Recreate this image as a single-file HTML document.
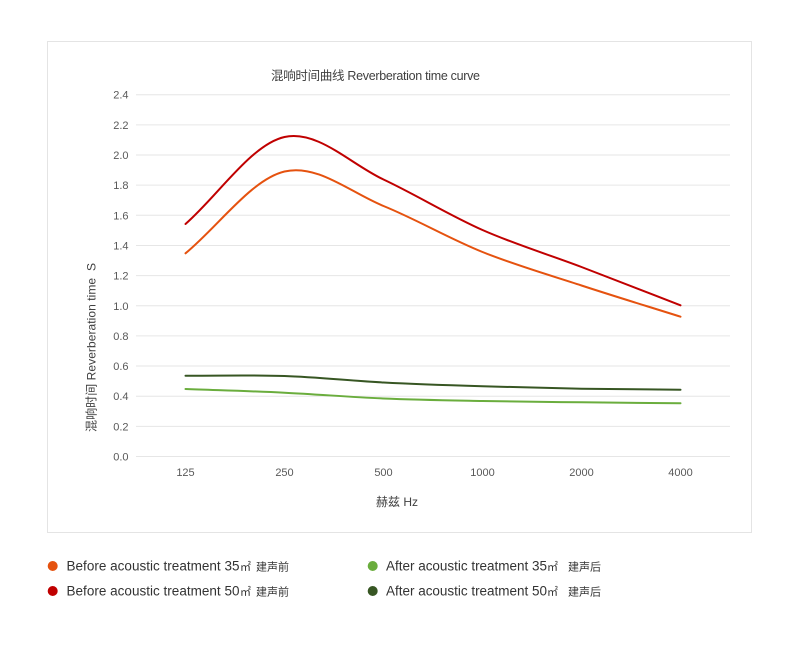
<!DOCTYPE html>
<html>
<head>
<meta charset="utf-8">
<style>
  html, body { margin: 0; padding: 0; background: #ffffff; }
  svg { display: block; }
  .tick { font-family: "Liberation Sans", "Noto Sans CJK SC", sans-serif; font-size: 11px; fill: #595959; }
  .ttl { font-family: "Liberation Sans", "Noto Sans CJK SC", sans-serif; fill: #404040; }
  .leg { font-family: "Liberation Sans", "Noto Sans CJK SC", sans-serif; font-size: 13.5px; fill: #333333; }
  .cj { font-family: "Noto Sans CJK SC", "WenQuanYi Zen Hei", sans-serif; font-size: 11px; fill: #333333; }
  .cjk { font-family: "Noto Sans CJK SC", "WenQuanYi Zen Hei", sans-serif; }
</style>
</head>
<body>
<svg width="800" height="650" viewBox="0 0 800 650" xmlns="http://www.w3.org/2000/svg">
  <rect x="0" y="0" width="800" height="650" fill="#ffffff"/>
  <!-- chart frame -->
  <rect x="47.5" y="41.5" width="704" height="491" fill="#ffffff" stroke="#e4e4e4" stroke-width="1"/>

  <!-- title -->
  <text class="ttl" x="271" y="80" style="font-size:12.5px" textLength="209" lengthAdjust="spacing"><tspan class="cjk">混响时间曲线</tspan> Reverberation time curve</text>

  <!-- gridlines -->
  <g stroke="#e6e6e6" stroke-width="1">
    <line x1="136" y1="456.5" x2="730" y2="456.5"/>
    <line x1="136" y1="426.35" x2="730" y2="426.35"/>
    <line x1="136" y1="396.2" x2="730" y2="396.2"/>
    <line x1="136" y1="366.05" x2="730" y2="366.05"/>
    <line x1="136" y1="335.9" x2="730" y2="335.9"/>
    <line x1="136" y1="305.75" x2="730" y2="305.75"/>
    <line x1="136" y1="275.6" x2="730" y2="275.6"/>
    <line x1="136" y1="245.45" x2="730" y2="245.45"/>
    <line x1="136" y1="215.3" x2="730" y2="215.3"/>
    <line x1="136" y1="185.15" x2="730" y2="185.15"/>
    <line x1="136" y1="155" x2="730" y2="155"/>
    <line x1="136" y1="124.85" x2="730" y2="124.85"/>
    <line x1="136" y1="94.7" x2="730" y2="94.7"/>
  </g>

  <!-- y tick labels -->
  <g class="tick" text-anchor="end">
    <text x="128.5" y="460.5">0.0</text>
    <text x="128.5" y="430.4">0.2</text>
    <text x="128.5" y="400.2">0.4</text>
    <text x="128.5" y="370.1">0.6</text>
    <text x="128.5" y="339.9">0.8</text>
    <text x="128.5" y="309.8">1.0</text>
    <text x="128.5" y="279.6">1.2</text>
    <text x="128.5" y="249.5">1.4</text>
    <text x="128.5" y="219.3">1.6</text>
    <text x="128.5" y="189.2">1.8</text>
    <text x="128.5" y="159">2.0</text>
    <text x="128.5" y="128.9">2.2</text>
    <text x="128.5" y="98.7">2.4</text>
  </g>

  <!-- x tick labels -->
  <g class="tick" text-anchor="middle">
    <text x="185.5" y="476">125</text>
    <text x="284.5" y="476">250</text>
    <text x="383.5" y="476">500</text>
    <text x="482.5" y="476">1000</text>
    <text x="581.5" y="476">2000</text>
    <text x="680.5" y="476">4000</text>
  </g>

  <!-- axis titles -->
  <text class="ttl" x="397" y="506" style="font-size:12px" text-anchor="middle"><tspan class="cjk">赫兹</tspan> Hz</text>
  <text class="ttl" x="0" y="0" style="font-size:12px" text-anchor="middle" transform="translate(95.5,347.5) rotate(-90)" textLength="169" lengthAdjust="spacing"><tspan class="cjk">混响时间</tspan> Reverberation time&#160;&#160;S</text>

  <!-- series -->
  <g fill="none" stroke-width="2" stroke-linecap="round" stroke-linejoin="round">
    <path stroke="#c00000" d="M185.5,224 C218.5,195 251.5,144.4 284.5,137 C317.5,129.6 350.5,164 383.5,179.5 C416.5,195 449.5,215.4 482.5,230 C515.5,244.6 548.5,254.45 581.5,267 C614.5,279.55 647.5,292.5 680.5,305.3"/>
    <path stroke="#e5520f" d="M185.5,253.3 C218.5,226 251.5,179.4 284.5,171.5 C317.5,163.6 350.5,192.6 383.5,206 C416.5,219.4 449.5,238.75 482.5,252 C515.5,265.25 548.5,274.7 581.5,285.5 C614.5,296.3 647.5,306.3 680.5,316.7"/>
    <path stroke="#375623" d="M185.5,375.7 C218.5,375.8 251.5,374.87 284.5,376 C317.5,377.13 350.5,380.78 383.5,382.5 C416.5,384.22 449.5,385.27 482.5,386.3 C515.5,387.33 548.5,388.13 581.5,388.7 C614.5,389.27 647.5,389.37 680.5,389.7"/>
    <path stroke="#6aad3d" d="M185.5,389 C218.5,390.23 251.5,391.12 284.5,392.7 C317.5,394.28 350.5,397.12 383.5,398.5 C416.5,399.88 449.5,400.37 482.5,401 C515.5,401.63 548.5,401.92 581.5,402.3 C614.5,402.68 647.5,402.97 680.5,403.3"/>
  </g>

  <!-- legend -->
  <circle cx="52.7" cy="566" r="5" fill="#e5520f"/>
  <text class="leg" x="66.5" y="570.5" textLength="173" lengthAdjust="spacing">Before acoustic treatment 35</text>
  <text class="cj" x="240" y="570.5">㎡</text>
  <text class="cj" x="256" y="570.5">建声前</text>

  <circle cx="52.7" cy="591" r="5" fill="#c00000"/>
  <text class="leg" x="66.5" y="595.5" textLength="173" lengthAdjust="spacing">Before acoustic treatment 50</text>
  <text class="cj" x="240" y="595.5">㎡</text>
  <text class="cj" x="256" y="595.5">建声前</text>

  <circle cx="372.7" cy="566" r="5" fill="#6aad3d"/>
  <text class="leg" x="386" y="570.5" textLength="161" lengthAdjust="spacing">After acoustic treatment 35</text>
  <text class="cj" x="547" y="570.5">㎡</text>
  <text class="cj" x="568" y="570.5">建声后</text>

  <circle cx="372.7" cy="591" r="5" fill="#375623"/>
  <text class="leg" x="386" y="595.5" textLength="161" lengthAdjust="spacing">After acoustic treatment 50</text>
  <text class="cj" x="547" y="595.5">㎡</text>
  <text class="cj" x="568" y="595.5">建声后</text>
</svg>
</body>
</html>
